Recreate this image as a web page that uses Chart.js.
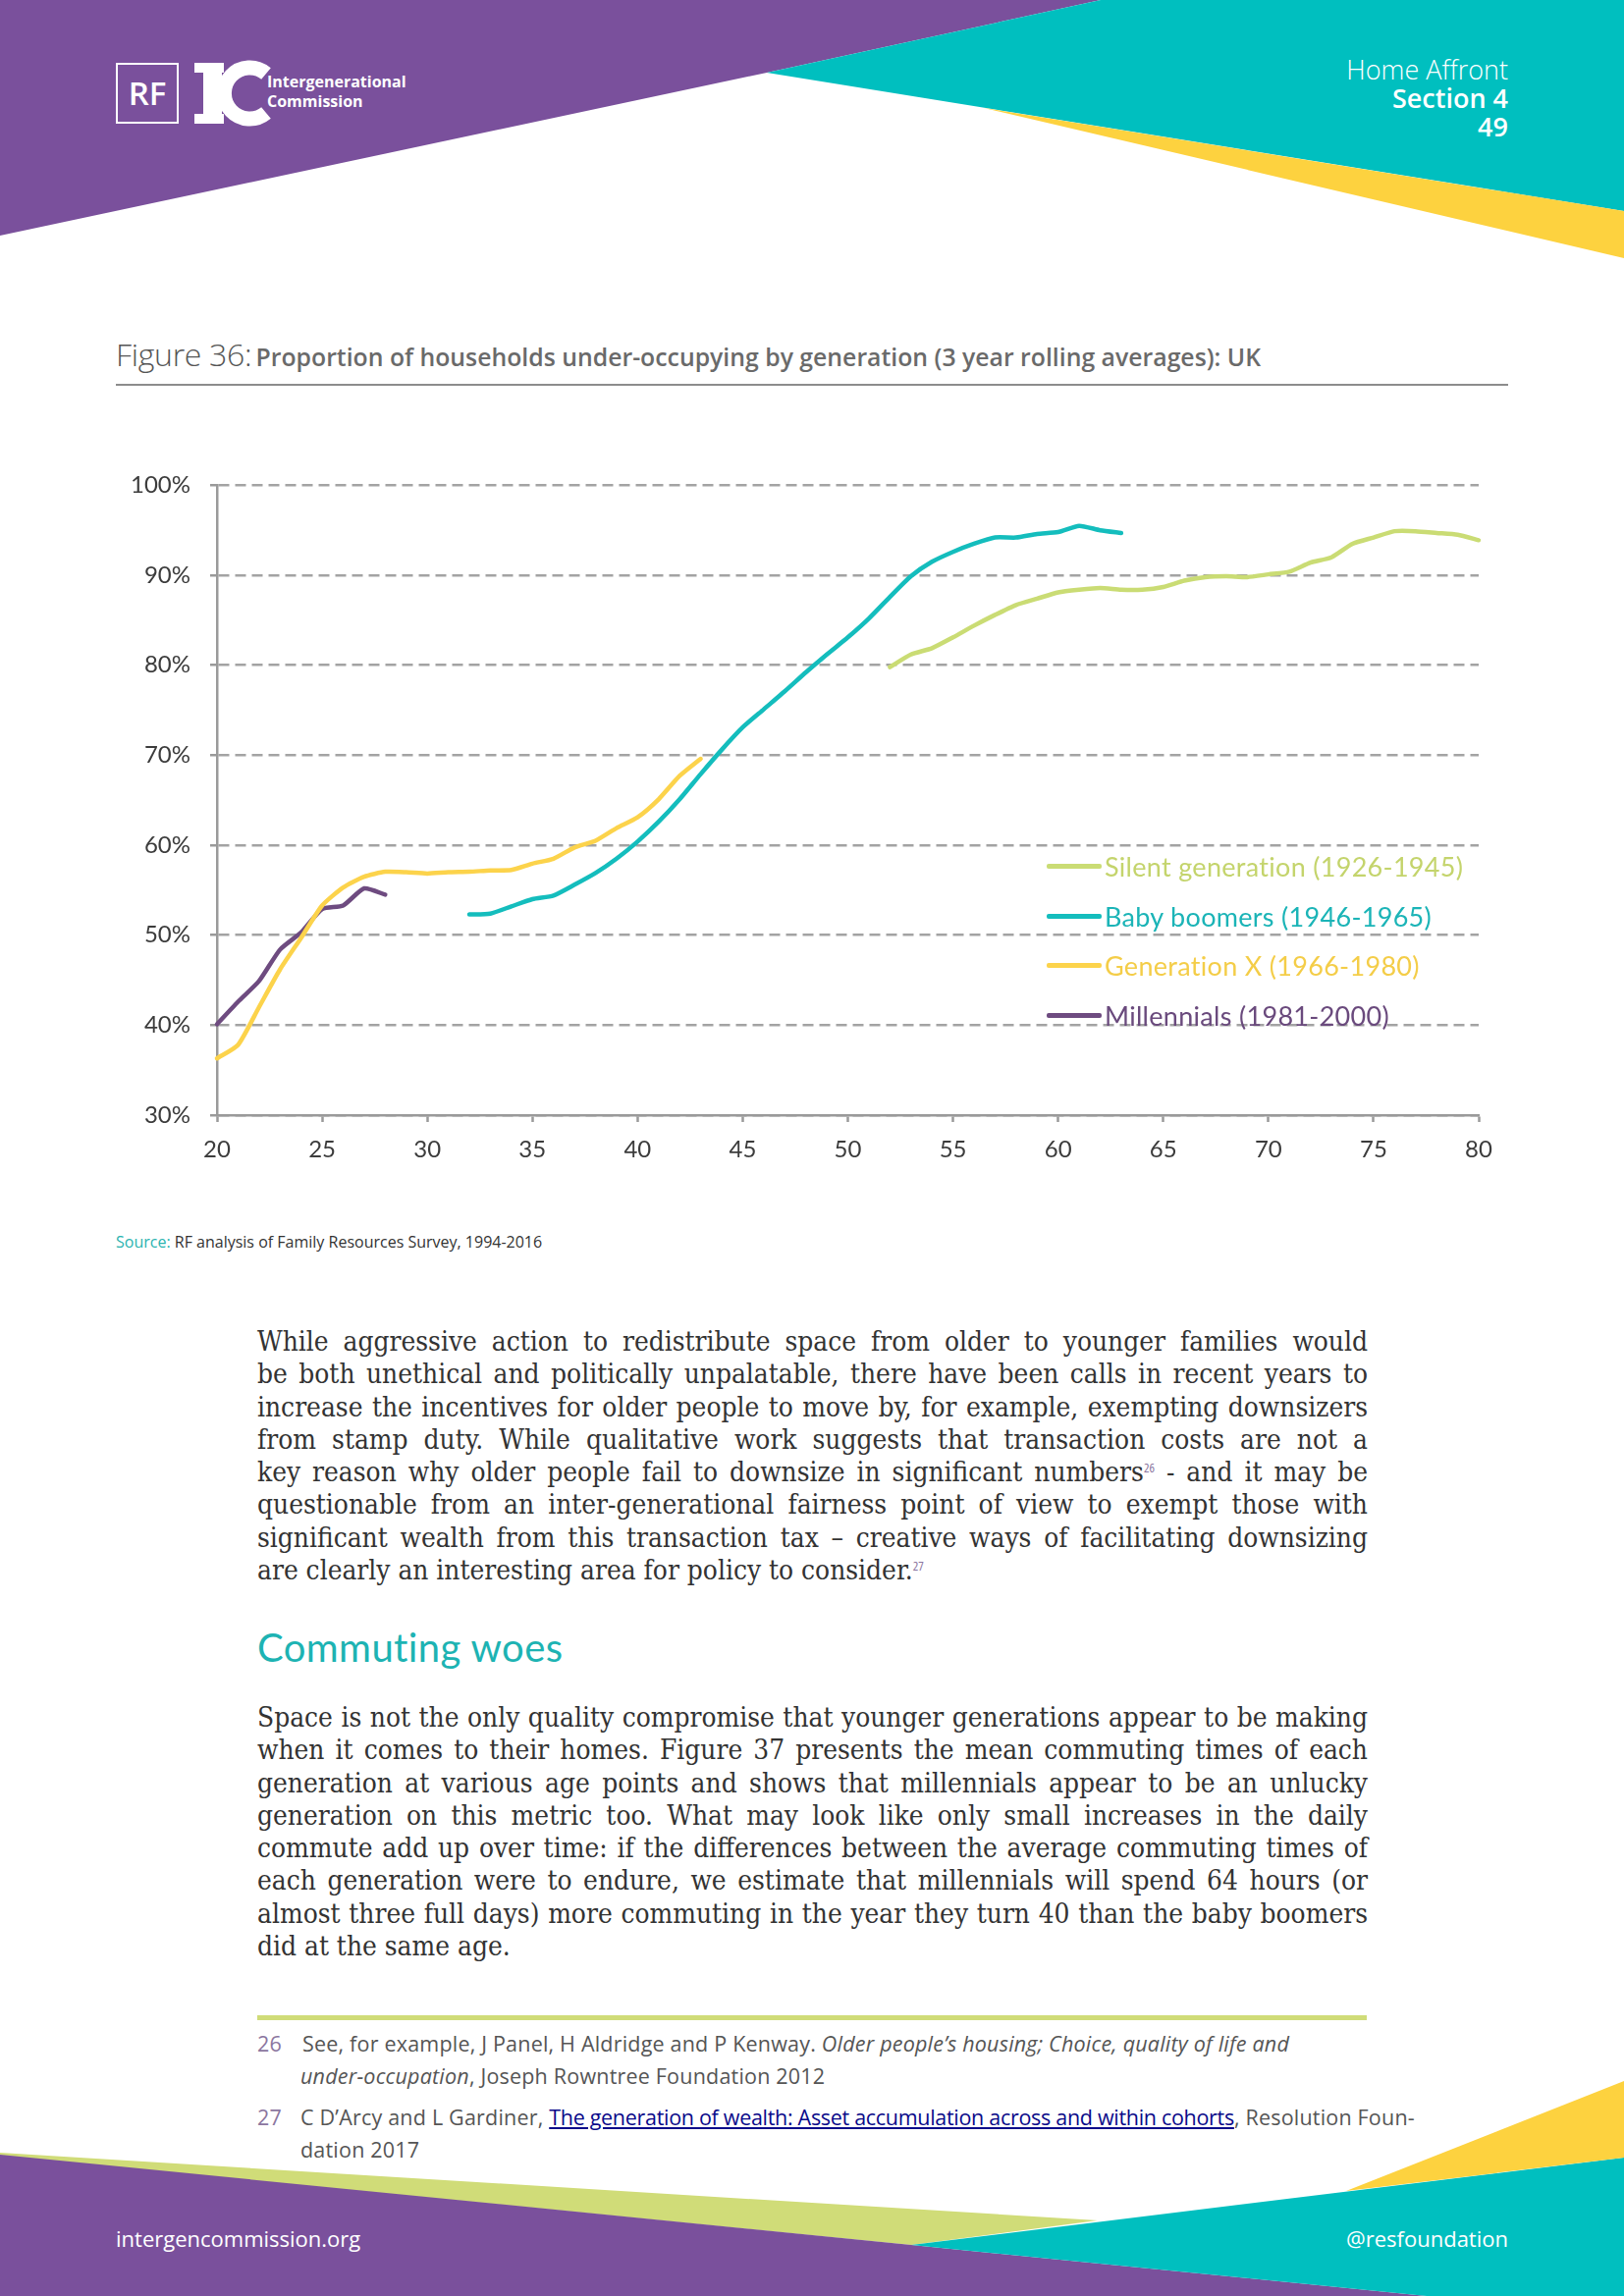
<!DOCTYPE html>
<html>
<head>
<meta charset="utf-8">
<script src="https://cdn.jsdelivr.net/npm/chart.js@4.4.1/dist/chart.umd.min.js"></script>
<style>
  body { margin: 0; background: #fff; }
  #page { position: relative; width: 1654px; height: 2339px; overflow: hidden; background: #fff; font-family: "Open Sans", sans-serif; }
  .abs { position: absolute; }
  .hdr { right: 118px; color: #fff; text-align: right; font-family: "Open Sans", sans-serif; font-size: 27px; line-height: 30px; }
  #title { left: 118px; top: 343px; line-height: 36px; white-space: nowrap; color: #6a6a6a; }
  #title .fig { font-size: 32px; font-weight: 300; color: #555; letter-spacing: -0.3px; }
  #title .txt { font-size: 24.8px; font-weight: 600; }
  #rule { left: 118px; top: 391px; width: 1418px; height: 2px; background: #8c8c8c; }
  #chartBox { left: 90px; top: 460px; width: 1450px; height: 740px; }
  #legend { left: 1066px; top: 857px; font-family: Lato, sans-serif; font-size: 27px; letter-spacing: 0.3px; }
  #legend .row { height: 50.7px; display: flex; align-items: center; white-space: nowrap; }
  #legend .sw { width: 56px; height: 5px; border-radius: 2px; margin-right: 3px; }
  #source { left: 118px; top: 1253px; font-size: 16px; line-height: 24px; color: #333; white-space: nowrap; }
  #source span { color: #2ab3b0; }
  .para { left: 262px; width: 1131px; font-family: "DejaVu Serif Condensed", "DejaVu Serif", serif; font-stretch: condensed; font-size: 25px; color: #333; }
  .para div { height: 33.3px; line-height: 33.3px; white-space: nowrap; }
  sup { font-size: 13px; line-height: 0; color: #8b76a0; font-family: "Open Sans", sans-serif; vertical-align: 9px; }
  #head2 { left: 262px; top: 1653px; line-height: 50px; font-family: Lato, sans-serif; font-size: 40px; letter-spacing: 0.4px; color: #1db3b3; white-space: nowrap; }
  #green { left: 262px; top: 2053px; width: 1130px; height: 5px; background: #d0dc78; }
  .fn { font-size: 21.5px; line-height: 28px; letter-spacing: 0.2px; color: #555; white-space: nowrap; }
  .fn .n { position: absolute; left: 0; color: #8b76a0; }
  .fn a { color: #0a0a8a; text-decoration: underline; letter-spacing: -0.3px; }
  .foot { top: 2265px; color: #fff; font-size: 22px; white-space: nowrap; }
</style>
</head>
<body>
<div id="page">
  <svg class="abs" style="left:0;top:0" width="1654" height="280" viewBox="0 0 1654 280">
    <polygon points="0,0 1121,0 781,74 0,240" fill="#7a509c"/>
    <polygon points="1121,0 1654,0 1654,215 781,74" fill="#00bfbf"/>
    <polygon points="1002,110 1654,215 1654,263" fill="#fdd23f"/>
    <rect x="119" y="65" width="62" height="60" fill="none" stroke="#fff" stroke-width="2"/>
    <text x="150" y="107" fill="#fff" font-family="Open Sans" font-size="33" font-weight="600" text-anchor="middle">RF</text>
    <rect x="198" y="64" width="30" height="10" fill="#fff"/>
    <rect x="207" y="64" width="19" height="62" fill="#fff"/>
    <rect x="198" y="116" width="30" height="10" fill="#fff"/>
    <path d="M 271 75 A 26 26 0 1 0 271 115" fill="none" stroke="#fff" stroke-width="15"/>
    <text x="272" y="89" fill="#fff" font-family="Open Sans" font-size="16" font-weight="700">Intergenerational</text>
    <text x="272" y="109" fill="#fff" font-family="Open Sans" font-size="16" font-weight="700">Commission</text>
  </svg>
  <div class="abs hdr" style="top:56px;font-weight:300">Home Affront</div>
  <div class="abs hdr" style="top:85px;font-weight:600">Section 4</div>
  <div class="abs hdr" style="top:114px;font-weight:600">49</div>

  <div id="title" class="abs"><span class="fig">Figure 36:</span> <span class="txt">Proportion of households under-occupying by generation (3 year rolling averages): UK</span></div>
  <div id="rule" class="abs"></div>

  <div id="chartBox" class="abs"><canvas id="chart"></canvas></div>
  <div id="legend" class="abs"></div>

  <div id="source" class="abs"><span>Source:</span> RF analysis of Family Resources Survey, 1994-2016</div>

  <div class="abs para" style="top:1350px">
    <div><span>While aggressive action to redistribute space from older to younger families would</span></div>
    <div><span>be both unethical and politically unpalatable, there have been calls in recent years to</span></div>
    <div><span>increase the incentives for older people to move by, for example, exempting downsizers</span></div>
    <div><span>from stamp duty. While qualitative work suggests that transaction costs are not a</span></div>
    <div><span>key reason why older people fail to downsize in significant numbers<sup>26</sup> - and it may be</span></div>
    <div><span>questionable from an inter-generational fairness point of view to exempt those with</span></div>
    <div><span>significant wealth from this transaction tax – creative ways of facilitating downsizing</span></div>
    <div class="last"><span>are clearly an interesting area for policy to consider.<sup>27</sup></span></div>
  </div>

  <div id="head2" class="abs">Commuting woes</div>

  <div class="abs para" style="top:1733px">
    <div><span>Space is not the only quality compromise that younger generations appear to be making</span></div>
    <div><span>when it comes to their homes. Figure 37 presents the mean commuting times of each</span></div>
    <div><span>generation at various age points and shows that millennials appear to be an unlucky</span></div>
    <div><span>generation on this metric too. What may look like only small increases in the daily</span></div>
    <div><span>commute add up over time: if the differences between the average commuting times of</span></div>
    <div><span>each generation were to endure, we estimate that millennials will spend 64 hours (or</span></div>
    <div><span>almost three full days) more commuting in the year they turn 40 than the baby boomers</span></div>
    <div class="last"><span>did at the same age.</span></div>
  </div>

  <div id="green" class="abs"></div>
  <div class="abs fn" style="left:262px;top:2068px;padding-left:46px"><span class="n">26</span>See, for example, J Panel, H Aldridge and P Kenway. <i>Older people’s housing; Choice, quality of life and</i></div>
  <div class="abs fn" style="left:306px;top:2101px"><i>under-occupation</i>, Joseph Rowntree Foundation 2012</div>
  <div class="abs fn" style="left:262px;top:2143px;padding-left:44px"><span class="n">27</span>C D’Arcy and L Gardiner, <a>The generation of wealth: Asset accumulation across and within cohorts</a>, Resolution Foun-</div>
  <div class="abs fn" style="left:306px;top:2176px">dation 2017</div>

  <svg class="abs" style="left:0;top:2100px" width="1654" height="239" viewBox="0 2100 1654 239">
    <polygon points="0,2193 1118,2262 928,2287 0,2196" fill="#d0dc78"/>
    <polygon points="0,2195 1453,2339 0,2339" fill="#7a509c"/>
    <polygon points="928,2287 1654,2198 1654,2339 1453,2339" fill="#00bfbf"/>
    <polygon points="1371,2232 1654,2120 1654,2198" fill="#fdd23f"/>
  </svg>
  <div class="abs foot" style="left:118px">intergencommission.org</div>
  <div class="abs foot" style="right:118px">@resfoundation</div>
</div>

<script>
// data (share of households under-occupying, %)
let seriesNames = ["Silent generation (1926-1945)", "Baby boomers (1946-1965)", "Generation X (1966-1980)", "Millennials (1981-2000)"];
let lineColours = ["#cadc74", "#14bdbd", "#fcd34b", "#6e4b80"];
let textColours = ["#c4d46c", "#1bb4b7", "#f4cd48", "#6a4a7d"];

let silentAges = [52, 53, 54, 55, 56, 57, 58, 59, 60, 61, 62, 63, 64, 65, 66, 67, 68, 69, 70, 71, 72, 73, 74, 75, 76, 77, 78, 79, 80];
let silentVals = [79.8, 81.2, 81.9, 83.1, 84.4, 85.6, 86.7, 87.4, 88.1, 88.4, 88.6, 88.4, 88.4, 88.7, 89.4, 89.8, 89.9, 89.8, 90.1, 90.4, 91.4, 92.0, 93.5, 94.2, 94.9, 94.9, 94.7, 94.5, 93.9];

let boomerAges = [32, 33, 34, 35, 36, 37, 38, 39, 40, 41, 42, 43, 44, 45, 46, 47, 48, 49, 50, 51, 52, 53, 54, 55, 56, 57, 58, 59, 60, 61, 62, 63];
let boomerVals = [52.3, 52.4, 53.2, 54.0, 54.4, 55.6, 56.9, 58.5, 60.4, 62.6, 65.1, 67.9, 70.6, 73.1, 75.1, 77.1, 79.2, 81.2, 83.1, 85.2, 87.6, 89.9, 91.5, 92.6, 93.5, 94.2, 94.2, 94.6, 94.8, 95.5, 95.0, 94.7];

let genXAges = [20, 21, 22, 23, 24, 25, 26, 27, 28, 29, 30, 31, 32, 33, 34, 35, 36, 37, 38, 39, 40, 41, 42, 43];
let genXVals = [36.3, 37.8, 42.0, 46.2, 49.7, 53.3, 55.3, 56.5, 57.05, 57.0, 56.85, 57.0, 57.05, 57.2, 57.25, 57.95, 58.5, 59.75, 60.5, 61.9, 63.1, 65.1, 67.7, 69.6];

let millAges = [20, 21, 22, 23, 24, 25, 26, 27, 28];
let millVals = [40.1, 42.6, 44.9, 48.4, 50.3, 52.9, 53.3, 55.2, 54.5];

let xTicks = [20, 25, 30, 35, 40, 45, 50, 55, 60, 65, 70, 75, 80];
let yTicks = [30, 40, 50, 60, 70, 80, 90, 100];

function toPoints(ages, vals) {
    return ages.map((a, i) => ({x: a, y: vals[i]}));
}

let allSeries = [toPoints(silentAges, silentVals), toPoints(boomerAges, boomerVals), toPoints(genXAges, genXVals), toPoints(millAges, millVals)];

let legend = document.getElementById("legend");
for (let i = 0; i < seriesNames.length; i++) {
    legend.innerHTML += "<div class=\"row\"><div class=\"sw\" style=\"background:" + lineColours[i] + "\"></div><span style=\"color:" + textColours[i] + "\">" + seriesNames[i] + "</span></div>";
}

// body text: fixed line breaks as printed, sized so the tightest line just fits, then justified
function justifyLines() {
    let paras = document.querySelectorAll(".para");
    let lines = document.querySelectorAll(".para div");
    paras.forEach(p => p.style.fontSize = "25px");
    lines.forEach(line => line.firstElementChild.style.wordSpacing = "0px");
    let widest = 0;
    lines.forEach(line => {
        if (!line.classList.contains("last")) widest = Math.max(widest, line.firstElementChild.getBoundingClientRect().width);
    });
    let size = Math.min(28, 25 * 1124 / widest);
    paras.forEach(p => p.style.fontSize = size + "px");
    lines.forEach(line => {
        let span = line.firstElementChild;
        if (line.classList.contains("last")) return;
        let spaces = (span.textContent.match(/ /g) || []).length;
        let extra = 1131 - span.getBoundingClientRect().width;
        span.style.wordSpacing = (extra / spaces) + "px";
    });
}
justifyLines();
if (document.fonts) document.fonts.ready.then(justifyLines);

let gridGrey = "#a3a3a3";
let axisGrey = "#9a9a9a";

new Chart(document.getElementById("chart"), {
    type: "line",
    data: {
        datasets: allSeries.map((pts, i) => ({
            label: seriesNames[i],
            data: pts,
            borderColor: lineColours[i],
            borderWidth: 4.5,
            pointRadius: 0,
            tension: 0.2,
            borderCapStyle: "round",
            borderJoinStyle: "round",
            clip: false
        }))
    },
    options: {
        responsive: true,
        maintainAspectRatio: false,
        animation: false,
        layout: { padding: { top: 12, right: 34, left: 0, bottom: 0 } },
        plugins: { legend: { display: false }, tooltip: { enabled: false } },
        scales: {
            x: {
                type: "linear",
                min: 20,
                max: 80,
                afterBuildTicks: scale => { scale.ticks = xTicks.map(v => ({value: v})); },
                afterFit: scale => { scale.height = 64; },
                grid: { drawOnChartArea: false, drawTicks: true, tickLength: 7, tickColor: axisGrey, tickWidth: 2.5, color: axisGrey },
                border: { display: true, color: axisGrey, width: 2.5 },
                ticks: { padding: 14, color: "#3c3c3c", font: { family: "Lato", size: 24 }, maxRotation: 0, autoSkip: false }
            },
            y: {
                min: 30,
                max: 100,
                afterBuildTicks: scale => { scale.ticks = yTicks.map(v => ({value: v})); },
                afterFit: scale => { scale.width = 131; },
                grid: { color: gridGrey, lineWidth: 2.5, drawTicks: true, tickLength: 7, tickColor: axisGrey, tickWidth: 2.5, tickBorderDash: [] },
                border: { display: true, color: axisGrey, width: 2.5, dash: [11, 6] },
                ticks: { padding: 20, color: "#3c3c3c", font: { family: "Lato", size: 24 }, callback: v => v + "%" }
            }
        }
    }
});
</script>
</body>
</html>
